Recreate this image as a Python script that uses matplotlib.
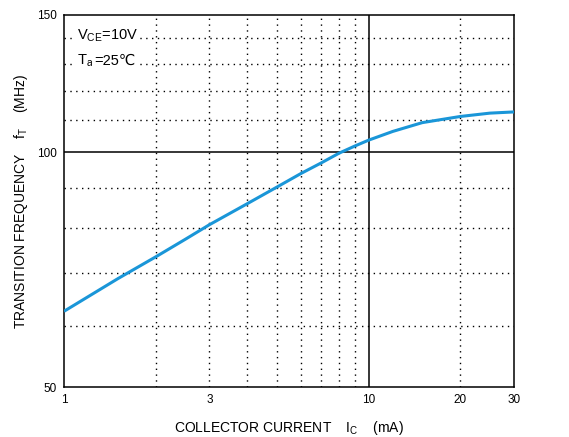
import matplotlib
matplotlib.use("Agg")
import matplotlib.pyplot as plt
from matplotlib.ticker import FixedLocator, NullFormatter, NullLocator

plt.rcParams['font.family'] = ['Liberation Sans', 'DejaVu Sans']
plt.rcParams['mathtext.fontset'] = 'custom'
plt.rcParams['mathtext.rm'] = 'Liberation Sans'
plt.rcParams['mathtext.it'] = 'Liberation Sans'

# Data
ic_ma = [1, 1.5, 2, 2.5, 3, 4, 5, 6, 7, 8, 9, 10, 12, 15, 20, 25, 30]
ft_mhz = [62.6, 68.9, 73.5, 77.4, 80.8, 86.0, 90.3, 94.0, 97.0, 99.8, 101.9,
          103.7, 106.4, 109.2, 111.2, 112.3, 112.7]

x_ticks = [1, 3, 10, 20, 30]
x_ticklabels = ["1", "3", "10", "20", "30"]
y_ticks = [50, 100, 150]
y_ticklabels = ["50", "100", "150"]
x_grid_minor = [2, 3, 4, 5, 6, 7, 8, 9, 20]
y_grid_minor = [60, 70, 80, 90, 110, 120, 130, 140]

fig = plt.figure(figsize=(5.69, 4.37), dpi=100)
ax = fig.add_axes([0.1125, 0.1133, 0.7908, 0.8524])
ax.set_xscale('log')
ax.set_yscale('log')
ax.set_xlim(1, 30)
ax.set_ylim(50, 150)

# grids
for xv in x_grid_minor:
    ax.axvline(xv, color='black', lw=1.0, ls=(0, (1, 3.2)), zorder=1)
for yv in y_grid_minor:
    ax.axhline(yv, color='black', lw=1.0, ls=(0, (1, 3.2)), zorder=1)
ax.axvline(10, color='black', lw=1.1, zorder=1)
ax.axhline(100, color='black', lw=1.1, zorder=1)

ax.plot(ic_ma, ft_mhz, color='#1a96d8', lw=2.2, zorder=3,
        solid_capstyle='butt', solid_joinstyle='round')

ax.xaxis.set_major_locator(FixedLocator(x_ticks))
ax.xaxis.set_minor_locator(NullLocator())
ax.set_xticklabels(x_ticklabels)
ax.xaxis.set_minor_formatter(NullFormatter())
ax.yaxis.set_major_locator(FixedLocator(y_ticks))
ax.yaxis.set_minor_locator(NullLocator())
ax.set_yticklabels(y_ticklabels)
ax.yaxis.set_minor_formatter(NullFormatter())
ax.tick_params(axis='both', length=0, labelsize=8.5, pad=5)

for s in ax.spines.values():
    s.set_linewidth(1.1)

ax.set_xlabel(r'COLLECTOR CURRENT    I$_{\rm C}$    (mA)', fontsize=10, labelpad=9)
ax.set_ylabel(r'TRANSITION FREQUENCY    f$_{\rm T}$    (MHz)', fontsize=10, labelpad=5)

bbox = dict(facecolor='white', edgecolor='none', pad=1.0)
ax.text(0.029, 0.933, r'V$_{\rm CE}$=10V', transform=ax.transAxes, fontsize=10.5,
        va='baseline', ha='left', bbox=bbox, zorder=4)
t1 = ax.text(0.029, 0.866, r'T$_{\rm a}$', transform=ax.transAxes, fontsize=10.5,
             va='baseline', ha='left', bbox=bbox, zorder=4)
ax.annotate('=25℃', xy=(1.0, 0.866), xycoords=(t1, 'axes fraction'),
            fontsize=10.5, va='baseline', ha='left', bbox=bbox, zorder=4,
            family=['Liberation Sans', 'DejaVu Sans'])

fig.savefig('out.png', dpi=100)
